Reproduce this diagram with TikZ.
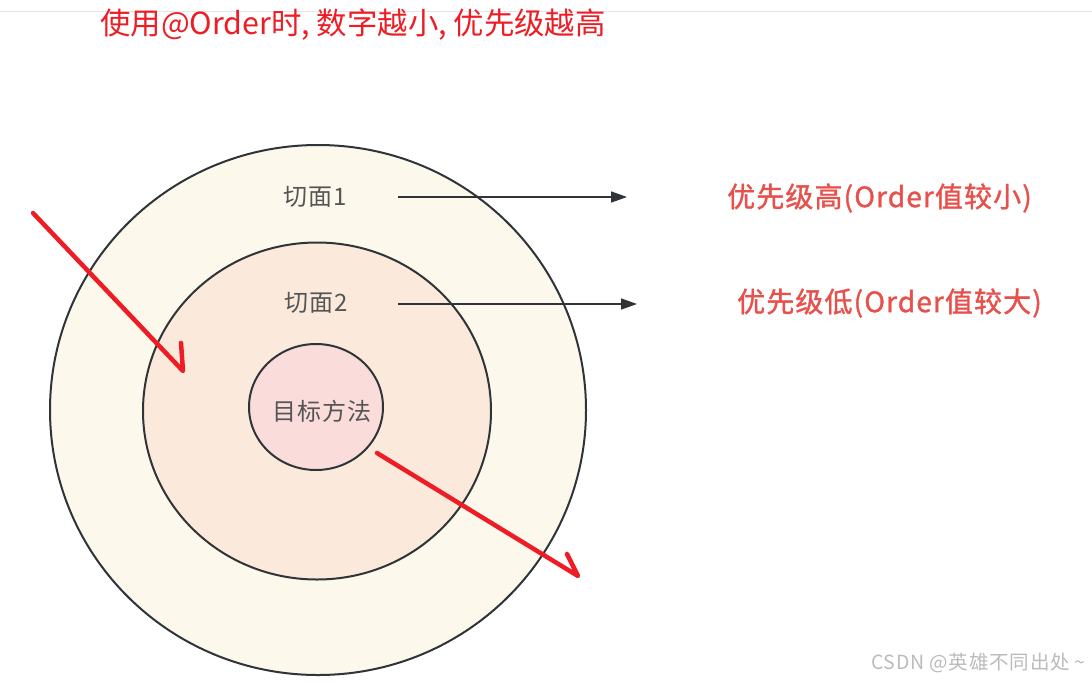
\documentclass[tikz,border=0pt]{standalone}
\usepackage{fontspec}
\setmainfont{Noto Sans CJK SC}
\newfontfamily\spaced[LetterSpace=4]{Noto Sans CJK SC}
\newfontfamily\spacedbold[LetterSpace=4,FakeBold=1.2]{Noto Sans CJK SC}
\usetikzlibrary{arrows.meta,shapes.geometric}
\definecolor{ringA}{HTML}{FCF8EB}
\definecolor{ringB}{HTML}{FBEADC}
\definecolor{ringC}{HTML}{FADCDA}
\definecolor{ringline}{HTML}{2F3438}
\definecolor{lblgray}{HTML}{555555}
\definecolor{titlered}{HTML}{EE1C25}
\definecolor{lblred}{HTML}{E8504C}
\definecolor{wmgray}{HTML}{BBBBBB}
\definecolor{topgray}{HTML}{E6E6E6}
\tikzset{
  ring/.style={ellipse, draw=ringline, line width=2pt, inner sep=0pt},
  lbl/.style={text=lblgray, font=\spaced\fontsize{24}{26}\selectfont, inner sep=0pt},
  redlbl/.style={text=lblred, font=\spacedbold\fontsize{28}{30}\selectfont, inner sep=0pt, anchor=west},
  titletext/.style={text=titlered, font=\fontsize{30.4}{33}\selectfont, inner sep=0pt, anchor=west},
  blackarrow/.style={draw=ringline, line width=1.6pt, -{Triangle[length=16pt,width=11pt]}},
  hand/.style={draw=titlered, line width=4.5pt, line cap=round, line join=round},
  wm/.style={text=wmgray, font=\spaced\fontsize{19.5}{21}\selectfont, inner sep=0pt, anchor=east}
}
\begin{document}
\begin{tikzpicture}[x=1pt,y=-1pt]
\useasboundingbox (0,0) rectangle (1092,686);
\fill[white] (0,0) rectangle (1092,686);
\coordinate (tl) at (0,11);
\coordinate (tr) at (1092,11);
\draw[topgray, line width=1pt] (tl) -- (tr);

\node[titletext] (title) at (100,25) {使用@Order时, 数字越小, 优先级越高};

\node[ring, fill=ringA, minimum width=536pt, minimum height=530pt] (outer) at (318,410) {};
\node[ring, fill=ringB, minimum width=348pt, minimum height=337pt] (middle) at (317,411) {};
\node[ring, fill=ringC, minimum width=134pt, minimum height=126pt] (inner) at (316,407) {};

\node[lbl] (a1) at (315,197) {切面1};
\node[lbl] (a2) at (316,303) {切面2};
\node[lbl] (target) at (322,411) {目标方法};

\coordinate (b1s) at (398,197);
\coordinate (b1e) at (627,197);
\coordinate (b2s) at (398,304);
\coordinate (b2e) at (637,304);
\draw[blackarrow] (b1s) -- (b1e);
\draw[blackarrow] (b2s) -- (b2e);

\node[redlbl] (p1) at (727,198) {优先级高(Order值较小)};
\node[redlbl] (p2) at (737,303) {优先级低(Order值较大)};

\coordinate (r1s) at (33,213);
\coordinate (r1t) at (183,371);
\coordinate (r1b) at (181,343);
\draw[hand] (r1s) -- (r1t) -- (r1b);
\coordinate (r2s) at (377,453);
\coordinate (r2t) at (578,576);
\coordinate (r2b) at (567,554);
\draw[hand] (r2s) -- (r2t) -- (r2b);

\node[wm] (wm) at (1086,663) {CSDN @英雄不同出处 \textasciitilde};
\end{tikzpicture}
\end{document}
